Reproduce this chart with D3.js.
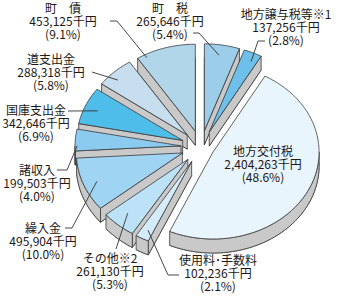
<!DOCTYPE html>
<html>
<head>
<meta charset="utf-8">
<script src="https://cdn.jsdelivr.net/npm/d3@7/dist/d3.min.js"></script>
<style>
  body { margin: 0; background: #fff; }
  svg { display: block; font-family: "Noto Sans CJK JP", "Noto Sans", sans-serif; }
</style>
</head>
<body>
<svg id="chart" width="352" height="296"></svg>
<script>
// revenue breakdown, clockwise from 12 o'clock
const categories = ['町　税', '地方譲与税等※1', '地方交付税', '使用料･手数料', 'その他※2', '繰入金', '諸収入', '国庫支出金', '道支出金', '町　債'];
const values = [265646, 137256, 2404263, 102236, 261130, 495904, 199503, 342646, 288318, 453125]; // 千円
const pctLabels = ['5.4', '2.8', '48.6', '2.1', '5.3', '10.0', '4.0', '6.9', '5.8', '9.1'];

const colors = ['#9ccde9', '#6ec0ea', '#e9f5fc', '#d4ecfa', '#bde2f7', '#a0d4f3', '#8ccbf0', '#4fbdea', '#c6deee', '#b1d6ea'];

// label placement: text centre x, first baseline y, leader path (from label) and anchor in slice [deg, radius fraction]
const labelLayout = [
  { x: 170, y: 12.5, from: [[193, 33], [199, 33]], at: [9, 0.88] },
  { x: 286, y: 18.5, from: [[265, 41], [258, 41]], at: [26, 0.9] },
  { x: 263, y: 155.5, from: null },
  { x: 218, y: 264.5, from: [[179, 275], [168, 275]], at: [207.6, 0.89] },
  { x: 110, y: 262.5, from: [[116, 249]], at: [222.5, 0.84] },
  { x: 43, y: 232.5, from: [[65, 228], [72, 228]], at: [248, 0.87] },
  { x: 37, y: 174.5, from: [[57, 170], [67, 170]], at: [270, 0.98] },
  { x: 36, y: 114.5, from: [[68, 111]], at: [293, 0.87] },
  { x: 51, y: 63.5, from: [[92, 72]], at: [314, 0.91] },
  { x: 63, y: 12.5, from: [[110, 21], [117, 21]], at: [331.6, 0.96] }
];

const cx = 201, cy = 147, rx = 106, ry = 87, depth = 14;
const k = ry / rx;
const explodeDefault = 20, explodeMain = 13.5;
const wallFill = '#c9c9c9', edge = '#3a3a3a';

const svg = d3.select('#chart');
const line = d3.line();
const fmt = d3.format(',');

const arcs = d3.pie().sort(null).value(d => d)(values);

const slices = arcs.map((a, i) => {
  const mid = (a.startAngle + a.endAngle) / 2;
  const e = i === 2 ? explodeMain : explodeDefault;
  const o = [e * Math.sin(mid), -e * k * Math.cos(mid)];
  return { i, a, mid, o };
});

const pt = (s, t, f = 1, dy = 0) => [cx + s.o[0] + f * rx * Math.sin(t), cy + s.o[1] - f * ry * Math.cos(t) + dy];

function arcPts(s, t1, t2, dy = 0) {
  const n = Math.max(2, Math.ceil((t2 - t1) / (Math.PI / 180)));
  return d3.range(n + 1).map(j => pt(s, t1 + (t2 - t1) * j / n, 1, dy));
}

// back slices first
const order = slices.slice().sort((p, q) => -Math.cos(p.mid) + Math.cos(q.mid));

order.forEach(s => {
  const t1 = s.a.startAngle, t2 = s.a.endAngle;
  const g = svg.append('g');
  const apex = pt(s, 0, 0), apexB = pt(s, 0, 0, depth);

  // bottom face
  g.append('path')
    .attr('d', line([apexB, ...arcPts(s, t1, t2, depth)]) + 'Z')
    .attr('fill', wallFill).attr('stroke', edge).attr('stroke-width', 0.8);

  // radial walls facing the viewer
  const radial = [];
  if (Math.sin(t1) < -1e-6) radial.push(t1);
  if (Math.sin(t2) > 1e-6) radial.push(t2);
  radial.forEach(t => {
    const p = pt(s, t), pb = pt(s, t, 1, depth);
    g.append('path')
      .attr('d', line([apex, p, pb, apexB]) + 'Z')
      .attr('fill', wallFill).attr('stroke', edge).attr('stroke-width', 0.8)
      .attr('stroke-linejoin', 'round');
  });

  // outer wall (front half only)
  const w1 = Math.max(t1, Math.PI / 2), w2 = Math.min(t2, 3 * Math.PI / 2);
  if (w1 < w2) {
    g.append('path')
      .attr('d', line([...arcPts(s, w1, w2), ...arcPts(s, w1, w2, depth).reverse()]) + 'Z')
      .attr('fill', wallFill).attr('stroke', edge).attr('stroke-width', 0.8)
      .attr('stroke-linejoin', 'round');
  }

  // top face
  g.append('path')
    .attr('d', line([apex, ...arcPts(s, t1, t2)]) + 'Z')
    .attr('fill', colors[s.i]).attr('stroke', edge).attr('stroke-width', 0.8)
    .attr('stroke-linejoin', 'round');
});

// leader lines
labelLayout.forEach((L, i) => {
  if (!L.from) return;
  const s = slices[i];
  const end = pt(s, L.at[0] * Math.PI / 180, L.at[1]);
  svg.append('path')
    .attr('d', line([...L.from, end]))
    .attr('fill', 'none').attr('stroke', '#333').attr('stroke-width', 0.9);
});

// labels
labelLayout.forEach((L, i) => {
  const t = svg.append('text')
    .attr('x', L.x).attr('y', L.y)
    .attr('text-anchor', 'middle')
    .attr('font-size', 12)
    .attr('fill', '#231815');
  [categories[i], fmt(values[i]) + '千円', '(' + pctLabels[i] + '%)'].forEach((txt, j) => {
    t.append('tspan').attr('x', L.x).attr('dy', j ? 13.3 : 0).text(txt);
  });
});
</script>
</body>
</html>
